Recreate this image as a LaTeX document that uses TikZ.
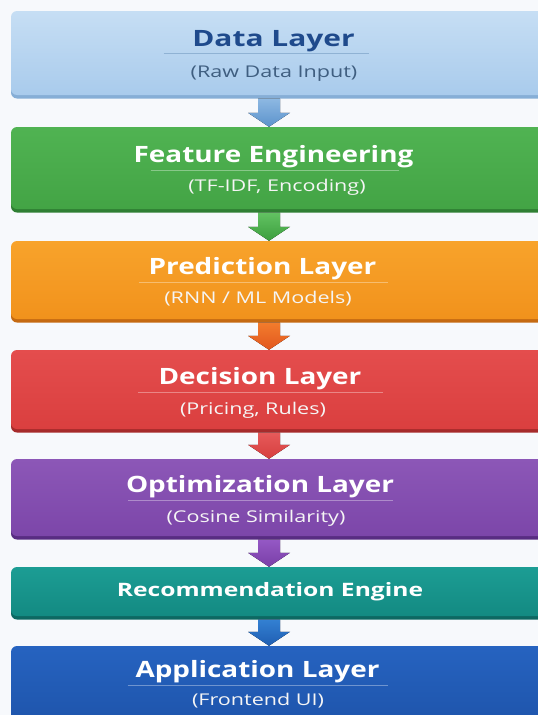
\documentclass[tikz,border=0pt]{standalone}
\usepackage{fontspec}
\setmainfont{Open Sans}
\newfontfamily\widefont[FakeStretch=1.33]{Open Sans}
\newfontfamily\midfont[FakeStretch=1.24]{Open Sans}
\usetikzlibrary{calc}
\definecolor{bgc}{HTML}{F7F9FC}
\definecolor{c1t}{HTML}{C6DEF4}\definecolor{c1b}{HTML}{A9CBEC}\definecolor{c1s}{HTML}{86AED6}
\definecolor{c2t}{HTML}{50B352}\definecolor{c2b}{HTML}{43A445}\definecolor{c2s}{HTML}{2F7F33}
\definecolor{c3t}{HTML}{F8A32B}\definecolor{c3b}{HTML}{F1921C}\definecolor{c3s}{HTML}{C56A12}
\definecolor{c4t}{HTML}{E44D4D}\definecolor{c4b}{HTML}{DA3F3F}\definecolor{c4s}{HTML}{A62B2B}
\definecolor{c5t}{HTML}{8C57B7}\definecolor{c5b}{HTML}{7C46A9}\definecolor{c5s}{HTML}{582C82}
\definecolor{c6t}{HTML}{1C9D94}\definecolor{c6b}{HTML}{138A82}\definecolor{c6s}{HTML}{0D6862}
\definecolor{c7t}{HTML}{2663C0}\definecolor{c7b}{HTML}{1D52A8}\definecolor{c7s}{HTML}{153F85}
\definecolor{ttl1}{HTML}{1F4A8C}\definecolor{sub1}{HTML}{3F5E80}
\definecolor{div1}{HTML}{8FB2D4}
\definecolor{a1t}{HTML}{8DB8E2}\definecolor{a1b}{HTML}{5C93CC}
\definecolor{a2t}{HTML}{62C262}\definecolor{a2b}{HTML}{3C9E3E}
\definecolor{a3t}{HTML}{F27C2C}\definecolor{a3b}{HTML}{E2571F}
\definecolor{a4t}{HTML}{E65A5A}\definecolor{a4b}{HTML}{D63E3E}
\definecolor{a5t}{HTML}{9458C4}\definecolor{a5b}{HTML}{7A3FA8}
\definecolor{a6t}{HTML}{3380D2}\definecolor{a6b}{HTML}{1F5EB2}
\begin{document}
\begin{tikzpicture}[x=1pt,y=-1pt,
  layerbox/.style n args={3}{draw=none, inner sep=0pt, rounded corners=6pt,
     minimum width=539pt, top color=#1, bottom color=#2,
     preaction={fill=#3, transform canvas={yshift=-3.5pt}}},
  ttl/.style={font=\midfont\fontsize{22.5}{26}\selectfont\bfseries, text=white, inner sep=0pt},
  subt/.style={font=\widefont\fontsize{16.2}{19}\selectfont, text=white!96!black, inner sep=0pt},
  divline/.style={line width=0.6pt, draw=white, draw opacity=0.35},
  flowarrow/.style n args={2}{top color=#1, bottom color=#2, draw=none}
]
\useasboundingbox (0,0) rectangle (538,715);
\clip (0,0) rectangle (538,715);
\fill[bgc] (0,0) rectangle (538,715);

% boxes
\node[layerbox={c1t}{c1b}{c1s}, minimum height=84pt] (b1) at (280.5,53) {};
\node[layerbox={c2t}{c2b}{c2s}, minimum height=82pt] (b2) at (280.5,168) {};
\node[layerbox={c3t}{c3b}{c3s}, minimum height=78pt] (b3) at (280.5,280) {};
\node[layerbox={c4t}{c4b}{c4s}, minimum height=79pt] (b4) at (280.5,389.5) {};
\node[layerbox={c5t}{c5b}{c5s}, minimum height=77pt] (b5) at (280.5,497.5) {};
\node[layerbox={c6t}{c6b}{c6s}, minimum height=49pt] (b6) at (280.5,591.5) {};
\node[layerbox={c7t}{c7b}{c7s}, minimum height=90pt] (b7) at (280.5,691) {};

% titles
\node[ttl, text=ttl1, font=\widefont\fontsize{22.5}{26}\selectfont\bfseries] (t1) at (273.5,41) {Data Layer};
\node[subt, text=sub1] (s1) at (274,74) {(Raw Data Input)};
\node[ttl] (t2) at (273.5,157) {Feature Engineering};
\node[subt] (s2) at (277,187) {(TF-IDF, Encoding)};
\node[ttl] (t3) at (262.5,269) {Prediction Layer};
\node[subt] (s3) at (258,299) {(RNN / ML Models)};
\node[ttl] (t4) at (260,379) {Decision Layer};
\node[subt] (s4) at (253,410) {(Pricing, Rules)};
\node[ttl] (t5) at (260,487) {Optimization Layer};
\node[subt] (s5) at (256,518) {(Cosine Similarity)};
\node[ttl, font=\widefont\fontsize{18.5}{22}\selectfont\bfseries] (t6) at (270,592) {Recommendation Engine};
\node[ttl] (t7) at (257.5,672) {Application Layer};
\node[subt] (s7) at (258,701) {(Frontend UI)};

% divider lines
\draw[line width=0.6pt, draw=div1] ($(t1.center)+(-110,12)$) -- ($(t1.center)+(95,12)$);
\draw[divline] ($(t2.center)+(-123,13)$) -- ($(t2.center)+(125,13)$);
\draw[divline] ($(t3.center)+(-124,13)$) -- ($(t3.center)+(125,13)$);
\draw[divline] ($(t4.center)+(-122,13)$) -- ($(t4.center)+(123,13)$);
\draw[divline] ($(t5.center)+(-132,13)$) -- ($(t5.center)+(133,13)$);
\draw[divline] ($(t7.center)+(-130,13)$) -- ($(t7.center)+(130,13)$);

% arrows
\coordinate (ax) at (269,0);
\foreach \u/\v/\c in {b1/b2/a1, b2/b3/a2, b3/b4/a3, b4/b5/a4, b5/b6/a5, b6/b7/a6}{
  \fill[flowarrow={\c t}{\c b}] let \p1=(ax |- \u.south), \p2=(ax |- \v.north) in
    (\x1-11pt,\y1-3.5pt) -- (\x1+11pt,\y1-3.5pt) -- (\x1+11pt,\y2+14pt)
    -- (\x1+21pt,\y2+14pt) -- (\x1,\y2) -- (\x1-21pt,\y2+14pt)
    -- (\x1-11pt,\y2+14pt) -- cycle;
}
\end{tikzpicture}
\end{document}
